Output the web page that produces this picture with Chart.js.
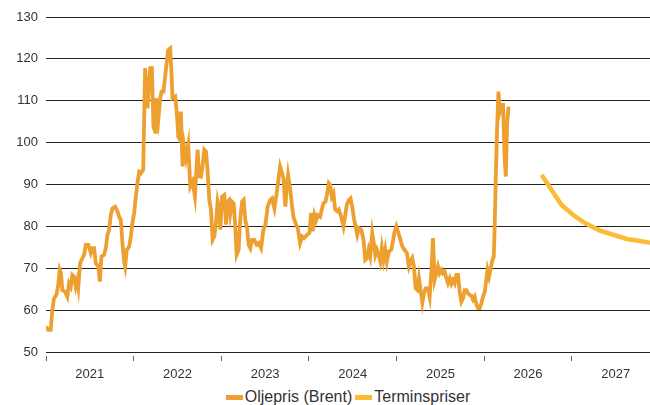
<!DOCTYPE html>
<html>
<head>
<meta charset="utf-8">
<script src="https://cdn.jsdelivr.net/npm/chart.js@4/dist/chart.umd.min.js"></script>
<style>
  html, body { margin: 0; padding: 0; background: #fff; }
  #wrap { width: 650px; height: 387px; position: relative; }
  #legend {
    width: 604px; height: 18px; margin-top: 1px; padding-left: 46px;
    display: flex; justify-content: center; align-items: center;
    font-family: 'Liberation Sans', Arial, sans-serif; font-size: 16px; line-height: 18px; color: #333;
  }
  #legend .item { display: flex; align-items: center; margin: 0 1.5px; }
  #legend .box { display: inline-block; width: 17px; height: 5px; margin-right: 2px; }
</style>
</head>
<body>
<div id="wrap"><canvas id="oilChart"></canvas></div>
<div id="legend"></div>
<script>
// Brent, weekly-ish, as fractional years
const brentYears = [
  2021.000, 2021.026, 2021.054, 2021.072, 2021.091, 2021.118, 2021.137, 2021.157, 2021.171, 2021.186,
  2021.217, 2021.243, 2021.263, 2021.282, 2021.301, 2021.320, 2021.339, 2021.358, 2021.369, 2021.389,
  2021.415, 2021.434, 2021.454, 2021.483, 2021.511, 2021.529, 2021.549, 2021.568, 2021.598, 2021.614,
  2021.632, 2021.663, 2021.682, 2021.701, 2021.720, 2021.739, 2021.758, 2021.789, 2021.815, 2021.834,
  2021.854, 2021.872, 2021.891, 2021.903, 2021.922, 2021.949, 2021.968, 2021.986, 2022.006, 2022.025,
  2022.043, 2022.063, 2022.082, 2022.109, 2022.131, 2022.158, 2022.189, 2022.208, 2022.226, 2022.246,
  2022.254, 2022.272, 2022.283, 2022.303, 2022.318, 2022.341, 2022.368, 2022.394, 2022.417, 2022.432,
  2022.443, 2022.474, 2022.494, 2022.509, 2022.520, 2022.539, 2022.558, 2022.577, 2022.597, 2022.623,
  2022.646, 2022.672, 2022.699, 2022.729, 2022.749, 2022.768, 2022.786, 2022.806, 2022.825, 2022.843,
  2022.863, 2022.882, 2022.901, 2022.920, 2022.939, 2022.958, 2022.977, 2022.989, 2023.008, 2023.034,
  2023.054, 2023.072, 2023.091, 2023.103, 2023.122, 2023.141, 2023.157, 2023.175, 2023.198, 2023.214,
  2023.237, 2023.255, 2023.274, 2023.294, 2023.312, 2023.331, 2023.351, 2023.377, 2023.403, 2023.426,
  2023.454, 2023.480, 2023.503, 2023.529, 2023.557, 2023.579, 2023.606, 2023.632, 2023.651, 2023.671,
  2023.694, 2023.709, 2023.731, 2023.746, 2023.762, 2023.785, 2023.808, 2023.826, 2023.854, 2023.872,
  2023.899, 2023.922, 2023.945, 2023.980, 2024.006, 2024.025, 2024.043, 2024.063, 2024.082, 2024.101,
  2024.128, 2024.146, 2024.166, 2024.189, 2024.208, 2024.226, 2024.242, 2024.261, 2024.280, 2024.299,
  2024.322, 2024.341, 2024.368, 2024.394, 2024.414, 2024.432, 2024.455, 2024.474, 2024.494, 2024.512,
  2024.531, 2024.551, 2024.569, 2024.597, 2024.623, 2024.642, 2024.661, 2024.680, 2024.699, 2024.722,
  2024.737, 2024.757, 2024.775, 2024.794, 2024.814, 2024.832, 2024.851, 2024.871, 2024.889, 2024.912,
  2024.939, 2024.958, 2024.977, 2024.997, 2025.015, 2025.034, 2025.065, 2025.091, 2025.118, 2025.141,
  2025.160, 2025.179, 2025.198, 2025.217, 2025.237, 2025.255, 2025.274, 2025.294, 2025.312, 2025.331,
  2025.358, 2025.377, 2025.397, 2025.415, 2025.434, 2025.454, 2025.472, 2025.491, 2025.511, 2025.529,
  2025.549, 2025.568, 2025.586, 2025.606, 2025.625, 2025.643, 2025.663, 2025.682, 2025.701, 2025.720,
  2025.739, 2025.758, 2025.777, 2025.797, 2025.815, 2025.834, 2025.854, 2025.872, 2025.891, 2025.911,
  2025.929, 2025.949, 2025.968, 2025.986, 2026.006, 2026.025, 2026.037, 2026.055, 2026.074, 2026.094,
  2026.109, 2026.120, 2026.131, 2026.146, 2026.162, 2026.177, 2026.197, 2026.215, 2026.231, 2026.246,
  2026.261, 2026.277
];
const brentPrices = [
  56.1, 55.3, 55.3, 60.0, 62.8, 63.6, 65.6, 69.6, 68.8, 64.8,
  64.4, 63.2, 66.4, 65.6, 68.4, 68.0, 65.6, 67.2, 65.6, 71.2,
  72.4, 73.2, 75.6, 75.6, 73.6, 74.8, 74.8, 71.2, 70.4, 66.8,
  72.8, 73.2, 74.8, 78.0, 79.2, 82.7, 84.3, 84.7, 83.6, 82.3,
  81.5, 76.0, 71.6, 70.4, 74.4, 75.2, 77.6, 80.8, 83.2, 87.1,
  90.3, 93.0, 92.7, 93.5, 117.8, 108.2, 117.8, 117.8, 103.8, 102.6,
  110.6, 107.8, 105.8, 110.6, 112.2, 112.2, 117.4, 122.1, 122.5, 116.5,
  110.6, 111.0, 106.6, 101.4, 101.0, 107.4, 94.3, 99.0, 96.3, 99.5,
  89.5, 90.7, 87.1, 98.3, 92.0, 91.9, 94.3, 98.3, 97.9, 93.5,
  86.3, 84.0, 76.8, 77.6, 80.8, 85.9, 84.0, 79.2, 87.1, 87.5,
  80.4, 85.9, 86.3, 83.2, 85.9, 85.5, 80.8, 73.2, 74.4, 81.2,
  85.9, 86.3, 81.5, 79.6, 75.6, 74.8, 76.8, 76.8, 75.6, 76.0,
  74.8, 79.2, 80.4, 84.7, 86.3, 86.7, 84.3, 87.9, 91.1, 94.3,
  92.7, 91.5, 84.7, 89.1, 92.3, 89.1, 84.7, 82.0, 80.4, 79.6,
  76.0, 77.6, 77.2, 78.0, 78.4, 83.2, 78.8, 82.7, 81.5, 82.7,
  82.3, 84.0, 85.5, 85.9, 87.9, 90.3, 89.9, 87.1, 87.9, 84.0,
  83.6, 84.0, 82.3, 80.0, 82.7, 85.1, 86.3, 86.7, 84.7, 82.0,
  80.0, 78.0, 79.6, 79.2, 76.8, 72.0, 72.4, 74.4, 72.8, 78.4,
  76.4, 73.2, 74.4, 73.2, 71.6, 74.8, 72.0, 74.4, 71.6, 74.0,
  74.4, 76.4, 78.8, 80.0, 78.8, 77.5, 75.2, 74.4, 73.6, 70.4,
  71.6, 72.4, 70.4, 65.2, 64.8, 67.6, 64.8, 61.8, 64.0, 65.2,
  65.2, 63.2, 69.2, 77.2, 67.2, 68.8, 70.4, 68.8, 69.6, 68.8,
  69.2, 67.6, 66.4, 67.6, 66.3, 67.2, 66.4, 68.4, 68.4, 64.4,
  62.0, 62.8, 64.8, 64.8, 64.0, 63.6, 63.4, 62.5, 63.2, 61.3,
  60.5, 60.5, 61.7, 63.2, 64.4, 67.6, 69.6, 68.0, 70.0, 72.0,
  72.8, 80.8, 91.1, 103.0, 112.2, 107.4, 109.0, 109.0, 97.1, 91.9,
  104.6, 108.6
];

const forwardYears = [2026.654, 2026.768, 2026.882, 2027.015, 2027.149, 2027.320, 2027.472, 2027.625, 2027.777, 2027.891];
const forwardPrices = [92.3, 88.7, 85.1, 82.7, 80.8, 79.0, 78.0, 77.0, 76.5, 76.1];

const yearLabels = ['2021', '2022', '2023', '2024', '2025', '2026', '2027'];

const FONT = "'Liberation Sans', Arial, sans-serif";

function toPoints(xs, ys) {
  return xs.map((x, i) => ({ x: x, y: ys[i] }));
}

const datasets = [
  {
    label: 'Oljepris (Brent)',
    data: toPoints(brentYears, brentPrices),
    borderColor: '#EDA030',
    backgroundColor: '#EDA030',
    borderWidth: 3.8,
    pointRadius: 0,
    tension: 0
  },
  {
    label: 'Terminspriser',
    data: toPoints(forwardYears, forwardPrices),
    borderColor: '#FCBA36',
    backgroundColor: '#FCBA36',
    borderWidth: 4.5,
    pointRadius: 0,
    tension: 0
  }
];

const ctx = document.getElementById('oilChart').getContext('2d');
const chart = new Chart(ctx, {
  type: 'line',
  data: { datasets: datasets },
  options: {
    responsive: true,
    maintainAspectRatio: false,
    animation: false,
    layout: { padding: { top: 17, right: 0, left: 0, bottom: 0 } },
    scales: {
      x: {
        type: 'linear',
        min: 2021,
        max: 2027.891,
        afterBuildTicks: (scale) => {
          const ticks = [];
          yearLabels.forEach(y => {
            ticks.push({ value: Number(y) });
            ticks.push({ value: Number(y) + 0.5 });
          });
          scale.ticks = ticks;
        },
        afterFit: (scale) => { scale.height = 35; },
        border: { display: false },
        grid: {
          drawOnChartArea: false,
          drawTicks: true,
          tickLength: 9,
          tickWidth: 1,
          tickBorderDash: [0, 4, 5, 100],
          tickColor: (c) => (c.tick && Number.isInteger(c.tick.value)) ? '#666' : 'rgba(0,0,0,0)'
        },
        ticks: {
          autoSkip: false,
          maxRotation: 0,
          padding: 6,
          color: '#333',
          font: { family: FONT, size: 13 },
          callback: (v) => Number.isInteger(v) ? '' : String(Math.floor(v))
        }
      },
      y: {
        min: 50,
        max: 130,
        afterFit: (scale) => { scale.width = 46; },
        border: { display: false },
        grid: { color: '#222', lineWidth: 1, drawTicks: false },
        ticks: {
          stepSize: 10,
          padding: 8,
          color: '#333',
          font: { family: FONT, size: 13 }
        }
      }
    },
    plugins: {
      legend: { display: false },
      tooltip: { enabled: false }
    }
  }
});

// legend built from the dataset labels and colours
const legendEl = document.getElementById('legend');
chart.data.datasets.forEach(ds => {
  const item = document.createElement('span');
  item.className = 'item';
  const box = document.createElement('span');
  box.className = 'box';
  box.style.background = ds.borderColor;
  const txt = document.createElement('span');
  txt.textContent = ds.label;
  item.appendChild(box);
  item.appendChild(txt);
  legendEl.appendChild(item);
});
</script>
</body>
</html>
